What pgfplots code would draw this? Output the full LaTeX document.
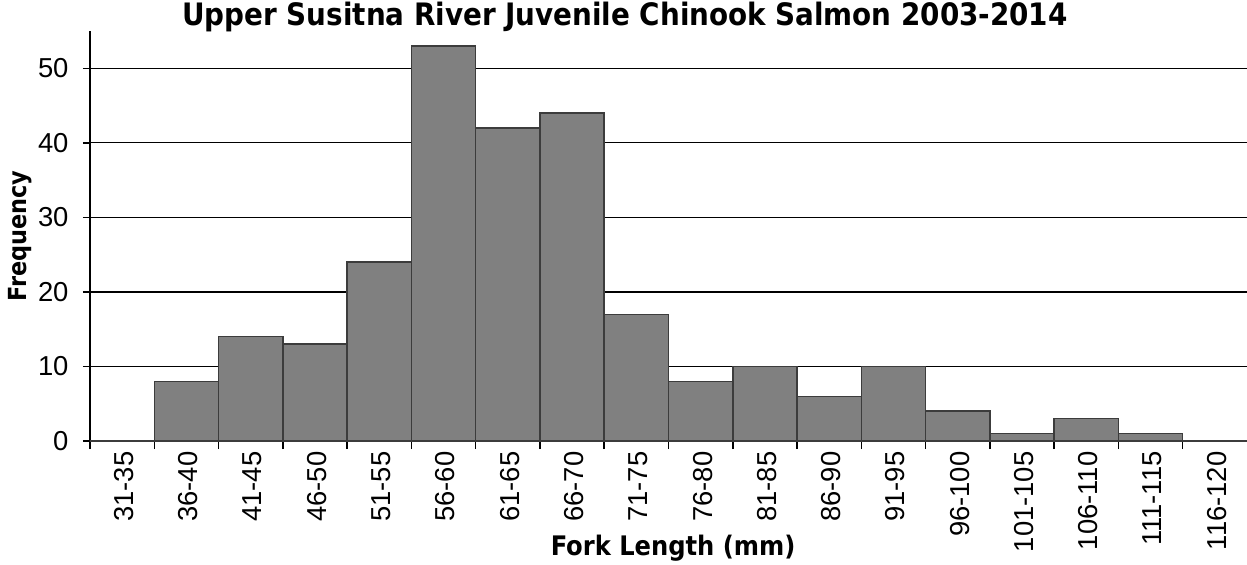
\documentclass[border=0pt]{standalone}
\usepackage{fontspec}
\setmainfont{Liberation Sans}
\newfontfamily\labfont{DejaVu Sans Condensed}
\newfontfamily\tickfont{Liberation Sans}
\newcommand\tf{\tickfont\fontsize{27.5}{30}\selectfont}
\usepackage{pgfplots}
\pgfplotsset{compat=1.18}
\definecolor{barfill}{HTML}{808080}
\definecolor{baredge}{HTML}{3C3C3C}
\pgfplotstableread{
x y
0 0
1 8
2 14
3 13
4 24
5 53
6 42
7 44
8 17
9 8
10 10
11 6
12 10
13 4
14 1
15 3
16 1
17 0
}\datatable
\begin{document}
\begin{tikzpicture}
\useasboundingbox (-90bp,-124bp) rectangle (1157bp,441bp);
\begin{axis}[
  scale only axis, width=1157bp, height=410bp,
  at={(0,0)}, anchor=south west,
  xmin=-0.5, xmax=17.5, ymin=0, ymax=55,
  axis lines*=left,
  axis line style={line width=1.5bp, black},
  tick align=outside,
  xtick={0,...,17},
  xticklabels={31-35,36-40,41-45,46-50,51-55,56-60,61-65,66-70,71-75,76-80,81-85,86-90,91-95,96-100,101-105,106-110,111-115,116-120},
  major x tick style={draw=none},
  minor xtick={-0.5,0.5,...,16.5},
  minor tick length=8bp,
  minor x tick style={black, line width=1.5bp},
  ytick={0,10,...,50},
  major tick length=7bp,
  major y tick style={black, line width=1.5bp},
  ymajorgrids,
  major y grid style={black, line width=1.2bp},
  /pgf/number format/assume math mode=true,
  tick label style={font=\tf},
  x tick label style={rotate=90, anchor=east, yshift=-2bp},
  y tick label style={xshift=-11bp},
  title={\labfont\bfseries\fontsize{31}{34}\selectfont Upper Susitna River Juvenile Chinook Salmon 2003-2014},
  title style={at={(axis description cs:0.4624,1.0)}, anchor=base},
  xlabel={\labfont\bfseries\fontsize{27}{30}\selectfont Fork Length (mm)},
  xlabel style={at={(axis description cs:0.504,-0.261)}, anchor=center},
  ylabel={\labfont\bfseries\fontsize{25}{30}\selectfont Frequency},
  ylabel style={at={(axis description cs:-0.0605,0.5)}, anchor=center, rotate=0},
  ybar, bar width=1, bar shift=0,
]
\addplot[fill=barfill, draw=baredge, line width=1.5bp] table[x=x,y=y] {\datatable};
\end{axis}
\end{tikzpicture}
\end{document}
